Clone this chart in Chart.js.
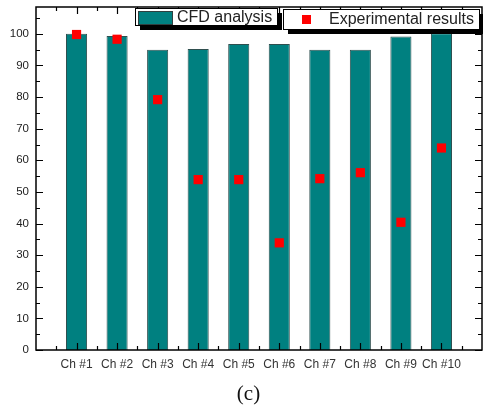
<!DOCTYPE html>
<html>
<head>
<meta charset="utf-8">
<script src="https://cdn.jsdelivr.net/npm/chart.js@4"></script>
<style>
  body { margin: 0; background: #fff; }
  #wrap { position: relative; width: 483px; height: 407px; }
  #caption { position: absolute; left: 0; width: 497px; top: 381px; text-align: center;
             font-family: "Liberation Serif", "Times New Roman", serif; font-size: 21px; color: #111; }
</style>
</head>
<body>
<div id="wrap">
  <canvas id="chart"></canvas>
  <div id="caption">(c)</div>
</div>
<script>
// Data
const channels = ['Ch #1', 'Ch #2', 'Ch #3', 'Ch #4', 'Ch #5', 'Ch #6', 'Ch #7', 'Ch #8', 'Ch #9', 'Ch #10'];
const cfdValues = [100, 99.3, 95.0, 95.2, 96.8, 96.8, 95.0, 95.0, 99.2, 100.2];
const expValues = [99.8, 98.3, 79.2, 53.9, 53.9, 33.9, 54.2, 56.1, 40.4, 63.9];
const yTicks = [0, 10, 20, 30, 40, 50, 60, 70, 80, 90, 100];

const TEAL = '#008080';

// frame, inward tick marks and the boxed legend
const framePlugin = {
    id: 'frame',
    afterDraw(chart) {
        const ctx = chart.ctx;
        const a = chart.chartArea;
        const xs = chart.scales.x, ys = chart.scales.y;
        ctx.save();
        ctx.strokeStyle = '#000';
        ctx.lineWidth = 1.5;
        ctx.strokeRect(a.left, a.top, a.right - a.left, a.bottom - a.top);

        ctx.lineWidth = 1.2;
        ctx.beginPath();
        // y ticks every 5 (major every 10)
        for (let v = 0; v <= 105; v += 5) {
            const y = Math.round(ys.getPixelForValue(v)) + 0.5;
            const len = v % 10 === 0 ? 7 : 4;
            ctx.moveTo(a.left, y); ctx.lineTo(a.left + len, y);
            ctx.moveTo(a.right, y); ctx.lineTo(a.right - len, y);
        }
        // x ticks at each channel, minor in between
        for (let v = 0.5; v <= 10.5; v += 0.5) {
            const x = Math.round(xs.getPixelForValue(v)) + 0.5;
            const len = Number.isInteger(v) ? 7 : 4;
            ctx.moveTo(x, a.bottom); ctx.lineTo(x, a.bottom - len);
            ctx.moveTo(x, a.top); ctx.lineTo(x, a.top + len);
        }
        ctx.stroke();

        // legend boxes with drop shadow
        ctx.font = '16px "Liberation Sans", Arial, sans-serif';
        ctx.textBaseline = 'middle';
        const box = (x, y, w, h) => {
            ctx.fillStyle = '#000';
            ctx.fillRect(x + 5, y + 5, w, h);
            ctx.fillStyle = '#fff';
            ctx.fillRect(x, y, w, h);
            ctx.lineWidth = 1;
            ctx.strokeStyle = '#000';
            ctx.strokeRect(x + 0.5, y + 0.5, w, h);
        };
        box(135, 8, 142, 17);
        ctx.fillStyle = TEAL;
        ctx.fillRect(138, 11, 34, 13);
        ctx.strokeStyle = '#2f3f3f';
        ctx.strokeRect(138.5, 11.5, 34, 13);
        ctx.fillStyle = '#222';
        ctx.fillText(chart.data.datasets[1].label, 177, 18);

        box(283, 9, 196, 20);
        ctx.fillStyle = '#ff0000';
        ctx.fillRect(302, 15, 9, 9);
        ctx.fillStyle = '#222';
        ctx.fillText(chart.data.datasets[0].label, 329, 19.5);
        ctx.restore();
    }
};

new Chart(document.getElementById('chart').getContext('2d'), {
    type: 'bar',
    data: {
        datasets: [{
            type: 'line',
            label: 'Experimental results',
            data: expValues.map((v, i) => ({ x: i + 1, y: v })),
            showLine: false,
            pointStyle: 'rect',
            pointRadius: 6.5,
            pointBackgroundColor: '#ff0000',
            pointBorderWidth: 0,
            order: 0
        }, {
            label: 'CFD analysis',
            data: cfdValues.map((v, i) => ({ x: i + 1, y: v })),
            backgroundColor: TEAL,
            borderColor: '#2f4f4f',
            borderWidth: 1,
            categoryPercentage: 1,
            barPercentage: 0.52,
            order: 1
        }]
    },
    options: {
        responsive: true,
        maintainAspectRatio: false,
        animation: false,
        layout: { autoPadding: false, padding: { top: 7, right: 1, left: 0, bottom: 0 } },
        plugins: { legend: { display: false }, tooltip: { enabled: false } },
        scales: {
            x: {
                type: 'linear',
                offset: false,
                min: 0,
                max: 11,
                grid: { display: false, drawTicks: false, offset: false },
                border: { display: false },
                afterBuildTicks: s => { s.ticks = channels.map((c, i) => ({ value: i + 1 })); },
                afterFit: s => { s.height = 57; s.paddingLeft = 0; s.paddingRight = 0; },
                ticks: {
                    padding: 7,
                    color: '#333',
                    font: { family: '"Liberation Sans", Arial, sans-serif', size: 12 },
                    maxRotation: 0,
                    autoSkip: false,
                    callback: v => channels[v - 1] || ''
                }
            },
            y: {
                min: 0,
                max: 108.5,
                grid: { display: false, drawTicks: false },
                border: { display: false },
                afterBuildTicks: s => { s.ticks = yTicks.map(v => ({ value: v })); },
                afterFit: s => { s.width = 36; s.paddingTop = 0; s.paddingBottom = 0; },
                ticks: {
                    padding: 7,
                    color: '#222',
                    font: { family: '"Liberation Sans", Arial, sans-serif', size: 11.5 }
                }
            }
        }
    },
    plugins: [framePlugin]
});
</script>
</body>
</html>
